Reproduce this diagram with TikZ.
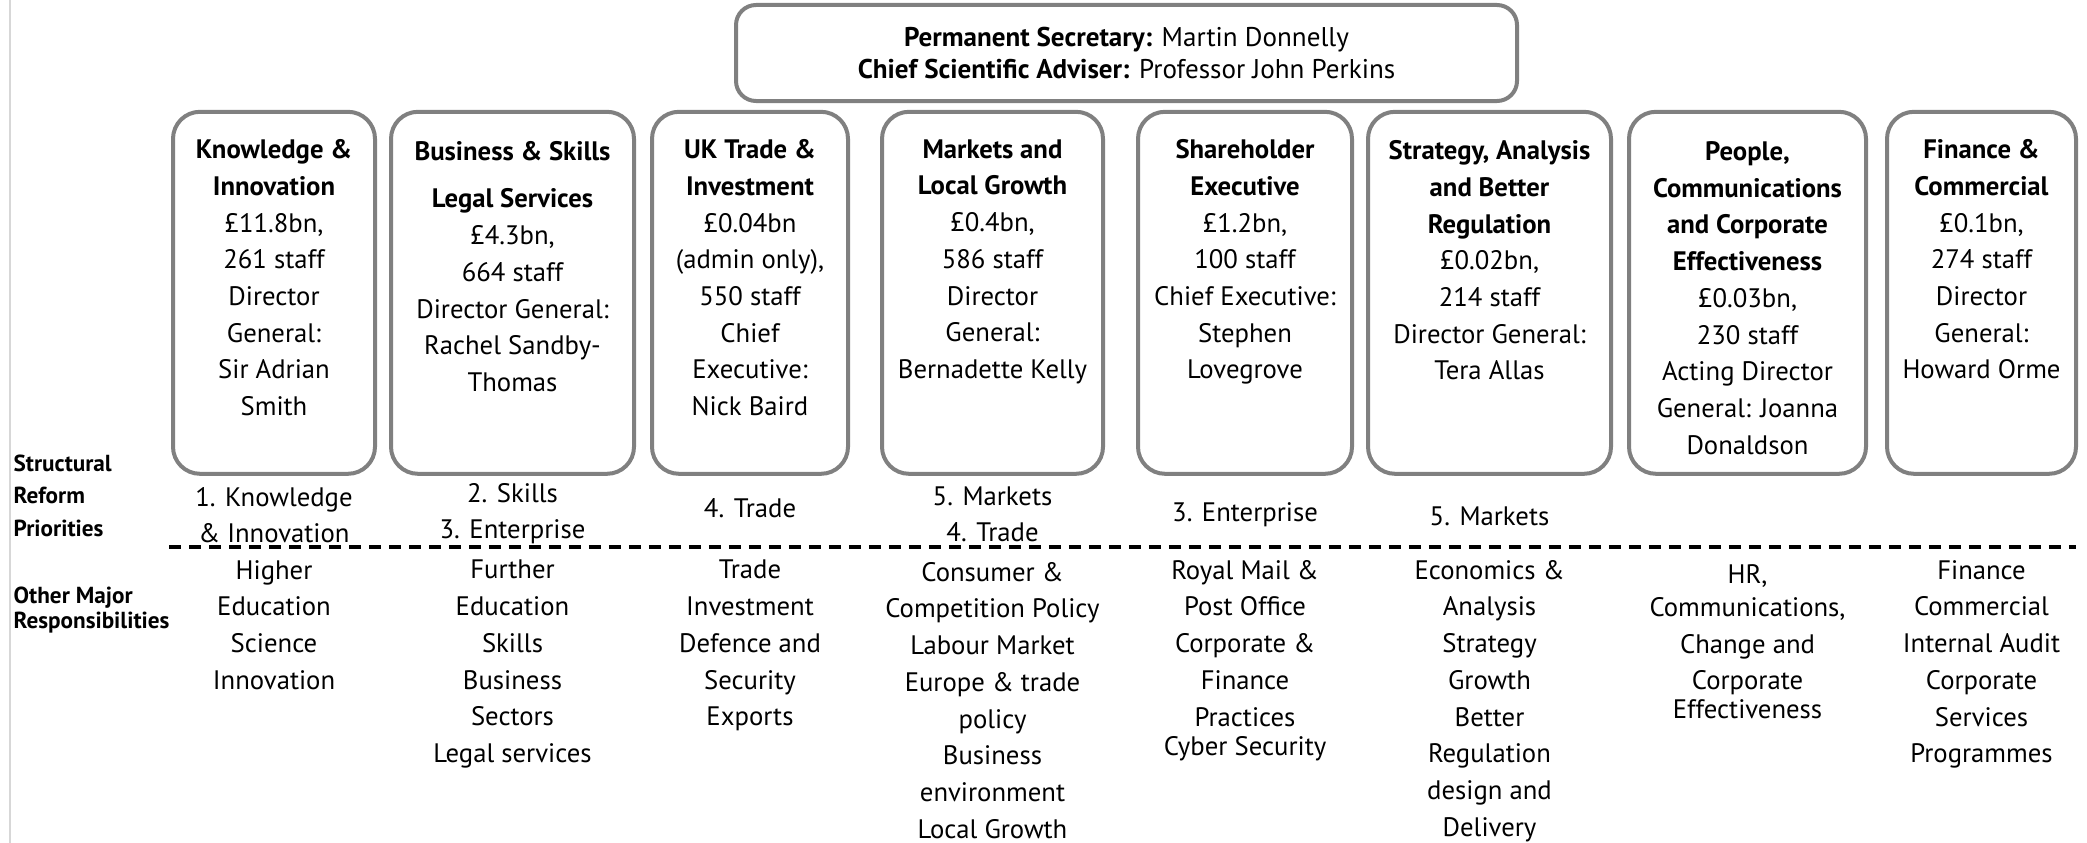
\documentclass[tikz,border=0pt]{standalone}
\usepackage{fontspec}
\setmainfont{PT Sans}
\usetikzlibrary{positioning}
\definecolor{boxgray}{RGB}{128,128,128}
\definecolor{edgegray}{RGB}{215,215,215}
\begin{document}
\begin{tikzpicture}[
    font=\fontsize{7.6}{10.45}\selectfont,
    topbox/.style={rectangle, draw=boxgray, line width=0.04cm, rounded corners=0.2cm, minimum width=7.81cm, minimum height=0.96cm, align=center, font=\fontsize{7.7}{9.1}\selectfont},
    unitbox/.style={rectangle, draw=boxgray, line width=0.04cm, rounded corners=0.27cm, minimum height=3.62cm},
    unittext/.style={anchor=north, align=center, inner sep=0pt},
    prio/.style={anchor=north, align=center, inner sep=0pt, font=\fontsize{7.6}{10.2}\selectfont},
    resp/.style={anchor=north, align=center, inner sep=0pt},
    rowlabel/.style={anchor=north west, align=left, inner sep=0pt, font=\bfseries\fontsize{6.6}{9.3}\selectfont},
]
    \useasboundingbox (0,0) rectangle (20.87,-8.43);
    \draw[edgegray, line width=0.02cm] (0.10,0) -- (0.10,-8.43);

    % Top of the department
    \node[topbox] (permsec) at (11.265,-0.53) {\textbf{Permanent Secretary:} Martin Donnelly\\ \textbf{Chief Scientific Adviser:} Professor John Perkins};

    % Groups
    \node[unitbox, minimum width=2.02cm] (ki) at (2.74,-2.928) {};
    \node[unitbox, minimum width=2.43cm] (bs) at (5.125,-2.928) {};
    \node[unitbox, minimum width=1.96cm] (ukti) at (7.50,-2.928) {};
    \node[unitbox, minimum width=2.21cm] (mlg) at (9.925,-2.928) {};
    \node[unitbox, minimum width=2.14cm] (shex) at (12.45,-2.928) {};
    \node[unitbox, minimum width=2.43cm] (sabr) at (14.895,-2.928) {};
    \node[unitbox, minimum width=2.37cm] (pcce) at (17.475,-2.928) {};
    \node[unitbox, minimum width=1.89cm] (fc) at (19.815,-2.928) {};

    % Text inside the groups
    \node[unittext] (kitext) at ([yshift=-0.29cm]ki.north) {\textbf{Knowledge \&}\\ \textbf{Innovation}\\ £11.8bn,\\ 261 staff\\ Director\\ General:\\ Sir Adrian\\ Smith};
    \node[unittext] (bstext) at ([yshift=-0.31cm]bs.north) {\textbf{Business \& Skills}\\[3pt] \textbf{Legal Services}\\ £4.3bn,\\ 664 staff\\ Director General:\\ Rachel Sandby-\\ Thomas};
    \node[unittext] (ukttext) at ([yshift=-0.29cm]ukti.north) {\textbf{UK Trade \&}\\ \textbf{Investment}\\ £0.04bn\\ (admin only),\\ 550 staff\\ Chief\\ Executive:\\ Nick Baird};
    \node[unittext] (mlgtext) at ([yshift=-0.29cm]mlg.north) {\textbf{Markets and}\\ \textbf{Local Growth}\\ £0.4bn,\\ 586 staff\\ Director\\ General:\\ Bernadette Kelly};
    \node[unittext] (shextext) at ([yshift=-0.29cm]shex.north) {\textbf{Shareholder}\\ \textbf{Executive}\\ £1.2bn,\\ 100 staff\\ Chief Executive:\\ Stephen\\ Lovegrove};
    \node[unittext] (sabrtext) at ([yshift=-0.30cm]sabr.north) {\textbf{Strategy, Analysis}\\ \textbf{and Better}\\ \textbf{Regulation}\\ £0.02bn,\\ 214 staff\\ Director General:\\ Tera Allas};
    \node[unittext] (pccetext) at ([yshift=-0.31cm]pcce.north) {\textbf{People,}\\ \textbf{Communications}\\ \textbf{and Corporate}\\ \textbf{Effectiveness}\\ £0.03bn,\\ 230 staff\\ Acting Director\\ General: Joanna\\ Donaldson};
    \node[unittext] (fctext) at ([yshift=-0.29cm]fc.north) {\textbf{Finance \&}\\ \textbf{Commercial}\\ £0.1bn,\\ 274 staff\\ Director\\ General:\\ Howard Orme};

    % Row labels
    \node[rowlabel] (srp) at (0.13,-4.54) {Structural\\ Reform\\ Priorities};
    \node[rowlabel] (omr) at (0.13,-5.86) {Other Major\\[-2.2pt] Responsibilities};

    % Structural reform priorities
    \node[prio, below=0.11cm of ki] (kiprio) {1. Knowledge\\ \& Innovation};
    \node[prio, below=0.07cm of bs] (bsprio) {2. Skills\\ 3. Enterprise};
    \node[prio, below=0.22cm of ukti] (ukprio) {4. Trade};
    \node[prio, below=0.10cm of mlg] (mlgprio) {5. Markets\\ 4. Trade};
    \node[prio, below=0.26cm of shex] (shexprio) {3. Enterprise};
    \node[prio, below=0.30cm of sabr] (sabrprio) {5. Markets};

    % Separator
    \coordinate (sepleft) at (1.69,-5.47);
    \coordinate (sepright) at (20.76,-5.47);
    \draw[line width=0.035cm, dash pattern=on 0.12cm off 0.08cm] (sepleft) -- (sepright);

    % Other major responsibilities
    \node[resp] (kiresp) at (ki.south |- 0,-5.595) {Higher\\ Education\\ Science\\ Innovation};
    \node[resp] (bsresp) at (bs.south |- 0,-5.595) {Further\\ Education\\ Skills\\ Business\\ Sectors\\ Legal services};
    \node[resp] (ukresp) at (ukti.south |- 0,-5.595) {Trade\\ Investment\\ Defence and\\ Security\\ Exports};
    \node[resp] (mlgresp) at (mlg.south |- 0,-5.615) {Consumer \&\\ Competition Policy\\ Labour Market\\ Europe \& trade\\ policy\\ Business\\ environment\\ Local Growth};
    \node[resp] (shexresp) at (shex.south |- 0,-5.595) {Royal Mail \&\\ Post Office\\ Corporate \&\\ Finance\\ Practices\\[-2.2pt] Cyber Security};
    \node[resp] (sabrresp) at (sabr.south |- 0,-5.595) {Economics \&\\ Analysis\\ Strategy\\ Growth\\ Better\\ Regulation\\ design and\\ Delivery};
    \node[resp] (pcceresp) at (pcce.south |- 0,-5.635) {HR,\\[-1pt] Communications,\\ Change and\\ Corporate\\[-2.2pt] Effectiveness};
    \node[resp] (fcresp) at (fc.south |- 0,-5.595) {Finance\\ Commercial\\ Internal Audit\\ Corporate\\ Services\\ Programmes};

\end{tikzpicture}
\end{document}
